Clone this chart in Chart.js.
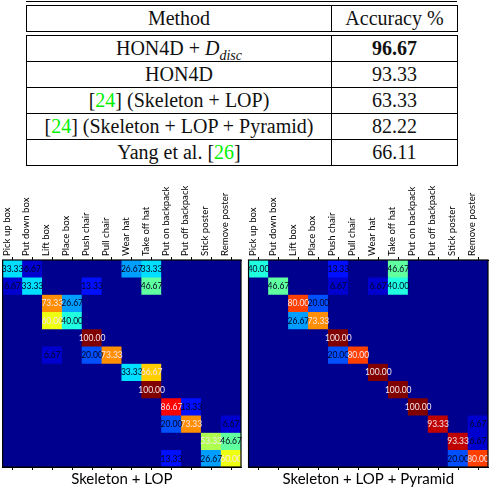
<!DOCTYPE html>
<html>
<head>
<meta charset="utf-8">
<script src="https://cdn.jsdelivr.net/npm/chart.js@4.4.0/dist/chart.umd.min.js"></script>
<style>
  html, body { margin: 0; padding: 0; background: #fff; }
  body { width: 494px; height: 488px; position: relative; overflow: hidden; font-family: "Liberation Serif", "Times New Roman", serif; }
  .rule { position: absolute; left: 26px; top: 1px; width: 431px; border-top: 1.3px solid #000; }
  table { position: absolute; left: 26px; width: 431px; border-collapse: collapse; table-layout: fixed; font-size: 20px; color: #111; }
  td { border: 1px solid #000; text-align: center; padding: 0; height: 25px; line-height: 25px; white-space: nowrap; }
  #head { top: 5px; }
  #body { top: 35px; }
  .cite { color: #00f000; }
  sub { font-size: 14px; line-height: 0; }
  canvas { position: absolute; top: 170px; }
  #lop { left: 0; }
  #pyr { left: 246px; }
</style>
</head>
<body>
<div class="rule"></div>
<table id="head"><colgroup><col style="width:305px"><col style="width:126px"></colgroup><tbody></tbody></table>
<table id="body"><colgroup><col style="width:305px"><col style="width:126px"></colgroup><tbody></tbody></table>
<canvas id="lop" width="244" height="318"></canvas>
<canvas id="pyr" width="248" height="318"></canvas>
<script>
// table
const tableHeader = ['Method', 'Accuracy %'];
const methods = [
  'HON4D + <i>D</i><sub><i>disc</i></sub>',
  'HON4D',
  '[<span class="cite">24</span>] (Skeleton + LOP)',
  '[<span class="cite">24</span>] (Skeleton + LOP + Pyramid)',
  'Yang et al. [<span class="cite">26</span>]'
];
const accuracies = [96.67, 93.33, 63.33, 82.22, 66.11];

// confusion matrices
const actions = ['Pick up box', 'Put down box', 'Lift box', 'Place box', 'Push chair', 'Pull chair',
  'Wear hat', 'Take off hat', 'Put on backpack', 'Put off backpack', 'Stick poster', 'Remove poster'];

const lopRows = [
  [33.33, 6.67, 0, 0, 0, 0, 26.67, 33.33, 0, 0, 0, 0],
  [6.67, 33.33, 0, 0, 13.33, 0, 0, 46.67, 0, 0, 0, 0],
  [0, 0, 73.33, 26.67, 0, 0, 0, 0, 0, 0, 0, 0],
  [0, 0, 60.00, 40.00, 0, 0, 0, 0, 0, 0, 0, 0],
  [0, 0, 0, 0, 100, 0, 0, 0, 0, 0, 0, 0],
  [0, 0, 6.67, 0, 20.00, 73.33, 0, 0, 0, 0, 0, 0],
  [0, 0, 0, 0, 0, 0, 33.33, 66.67, 0, 0, 0, 0],
  [0, 0, 0, 0, 0, 0, 0, 100, 0, 0, 0, 0],
  [0, 0, 0, 0, 0, 0, 0, 0, 86.67, 13.33, 0, 0],
  [0, 0, 0, 0, 0, 0, 0, 0, 20.00, 73.33, 0, 6.67],
  [0, 0, 0, 0, 0, 0, 0, 0, 0, 0, 53.33, 46.67],
  [0, 0, 0, 0, 0, 0, 0, 0, 13.33, 0, 26.67, 60.00]
];

const pyramidRows = [
  [40.00, 0, 0, 0, 13.33, 0, 0, 46.67, 0, 0, 0, 0],
  [0, 46.67, 0, 0, 6.67, 0, 6.67, 40.00, 0, 0, 0, 0],
  [0, 0, 80.00, 20.00, 0, 0, 0, 0, 0, 0, 0, 0],
  [0, 0, 26.67, 73.33, 0, 0, 0, 0, 0, 0, 0, 0],
  [0, 0, 0, 0, 100, 0, 0, 0, 0, 0, 0, 0],
  [0, 0, 0, 0, 20.00, 80.00, 0, 0, 0, 0, 0, 0],
  [0, 0, 0, 0, 0, 0, 100, 0, 0, 0, 0, 0],
  [0, 0, 0, 0, 0, 0, 0, 100, 0, 0, 0, 0],
  [0, 0, 0, 0, 0, 0, 0, 0, 100, 0, 0, 0],
  [0, 0, 0, 0, 0, 0, 0, 0, 0, 93.33, 0, 6.67],
  [0, 0, 0, 0, 0, 0, 0, 0, 0, 0, 93.33, 6.67],
  [0, 0, 0, 0, 0, 0, 0, 0, 0, 0, 20.00, 80.00]
];

// fill the table
document.querySelector('#head tbody').innerHTML =
  '<tr>' + tableHeader.map(h => '<td>' + h + '</td>').join('') + '</tr>';
const best = Math.max(...accuracies);
document.querySelector('#body tbody').innerHTML = methods.map((m, i) => {
  const acc = accuracies[i].toFixed(2);
  return '<tr><td>' + m + '</td><td>' + (accuracies[i] === best ? '<b>' + acc + '</b>' : acc) + '</td></tr>';
}).join('');

// matlab style jet(64)
function jetTable(m) {
  const n = Math.ceil(m / 4);
  const u = [];
  for (let i = 1; i <= n; i++) u.push(i / n);
  for (let i = 1; i < n; i++) u.push(1);
  for (let i = n; i >= 1; i--) u.push(i / n);
  const off = Math.ceil(n / 2) - (m % 4 === 1 ? 1 : 0);
  const J = Array.from({ length: m }, () => [0, 0, 0]);
  u.forEach((val, k) => {
    const g = off + k + 1;
    const r = g + n, b = g - n;
    if (g >= 1 && g <= m) J[g - 1][1] = val;
    if (r >= 1 && r <= m) J[r - 1][0] = val;
    if (b >= 1 && b <= m) J[b - 1][2] = val;
  });
  return J.map(c => 'rgb(' + c.map(x => Math.round(x * 255)).join(',') + ')');
}
const jet = jetTable(64);
const colorFor = v => jet[Math.min(63, Math.floor(v / 100 * 64))];

const cellPlugin = {
  id: 'cells',
  beforeDatasetsDraw(chart) {
    const { ctx, chartArea: a } = chart;
    ctx.save();
    ctx.fillStyle = jet[0];
    ctx.fillRect(a.left, a.top, a.width, a.height);
    ctx.restore();
  },
  afterDatasetsDraw(chart) {
    const { ctx, chartArea: a } = chart;
    ctx.save();
    ctx.font = '8.5px Lato';
    ctx.textAlign = 'center';
    ctx.textBaseline = 'middle';
    chart.data.datasets.forEach((ds, i) => {
      chart.getDatasetMeta(i).data.forEach((bar, j) => {
        const v = ds.values[j];
        if (!v) return;
        ctx.fillStyle = v > 50 ? '#f6e6ee' : '#000022';
        ctx.fillText(v.toFixed(2), bar.x, (bar.y + bar.base) / 2 + 0.5);
      });
    });
    ctx.strokeStyle = '#000';
    ctx.lineWidth = 1.2;
    ctx.strokeRect(a.left, a.top, a.width, a.height);
    ctx.restore();
  }
};

function makeMatrix(id, rows, title, padLeft, padRight) {
  const tickGrid = { offset: false, drawOnChartArea: false, tickLength: 3, color: '#000', lineWidth: 1 };
  return new Chart(document.getElementById(id), {
    type: 'bar',
    data: {
      labels: actions,
      datasets: rows.map((row, r) => ({
        label: actions[r],
        data: row.map(() => 1),
        values: row,
        backgroundColor: row.map(colorFor),
        borderWidth: 0
      }))
    },
    options: {
      responsive: false,
      animation: false,
      layout: { padding: { left: padLeft, right: padRight, top: 0, bottom: 0 } },
      plugins: { legend: { display: false }, tooltip: { enabled: false } },
      datasets: { bar: { barPercentage: 1, categoryPercentage: 1 } },
      scales: {
        x: {
          position: 'top',
          stacked: true,
          offset: true,
          grid: tickGrid,
          border: { color: '#000' },
          ticks: { minRotation: 90, maxRotation: 90, autoSkip: false, color: '#000', padding: 1,
                   labelOffset: 5.5, font: { family: 'Lato', size: 9.6 } },
          afterFit(s) { s.height = 90; }
        },
        x2: {
          type: 'category',
          labels: actions,
          position: 'bottom',
          offset: true,
          grid: tickGrid,
          border: { color: '#000' },
          ticks: { display: false },
          title: { display: true, text: title, color: '#000', padding: 0,
                   font: { family: 'Lato', size: 15 } },
          afterFit(s) { s.height = 21; }
        },
        y: { display: false, stacked: true, min: 0, max: 12, reverse: true }
      }
    },
    plugins: [cellPlugin]
  });
}

makeMatrix('lop', lopRows, 'Skeleton + LOP', 1, 3);
makeMatrix('pyr', pyramidRows, 'Skeleton + LOP + Pyramid', 0, 6);
</script>
</body>
</html>
